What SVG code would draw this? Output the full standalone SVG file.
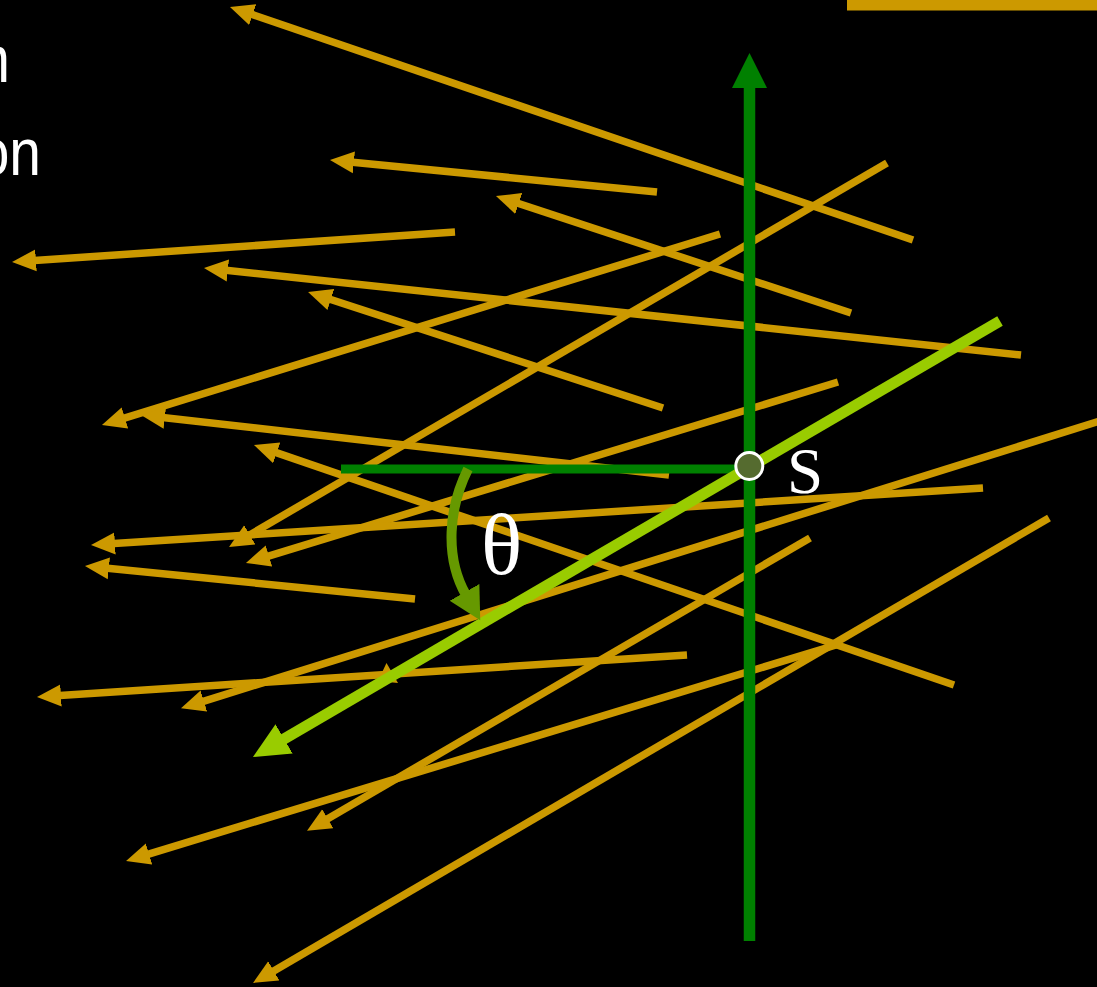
<svg xmlns="http://www.w3.org/2000/svg" width="1097" height="987" viewBox="0 0 1097 987">
  <defs>
    <style>
      .ray { stroke: #CC9900; stroke-width: 7.5; fill: none; marker-end: url(#ah-orange); }
      .serif { font-family: "Liberation Serif", "Times New Roman", serif; fill: #FFFFFF; }
      .sans { font-family: "Liberation Sans", Arial, sans-serif; fill: #FFFFFF; font-size: 67px; }
    </style>
    <marker id="ah-orange" markerUnits="userSpaceOnUse" markerWidth="26" markerHeight="24" viewBox="0 -12 26 24" refX="9" refY="0" orient="auto">
      <path d="M0,-11 L24,0 L0,11 Z" fill="#CC9900"/>
    </marker>
    <marker id="ah-green" markerUnits="userSpaceOnUse" markerWidth="37" markerHeight="37" viewBox="0 -18.5 37 37" refX="13" refY="0" orient="auto">
      <path d="M0,-17.5 L35,0 L0,17.5 Z" fill="#008000"/>
    </marker>
    <marker id="ah-lime" markerUnits="userSpaceOnUse" markerWidth="38" markerHeight="36" viewBox="0 -18 38 36" refX="14" refY="0" orient="auto">
      <path d="M0,-17 L36,0 L0,17 Z" fill="#99CC00"/>
    </marker>
    <marker id="ah-olive" markerUnits="userSpaceOnUse" markerWidth="34" markerHeight="36" viewBox="0 -18 34 36" refX="3" refY="0" orient="auto">
      <path d="M0,-17 L32,0 L0,17 Z" fill="#669900"/>
    </marker>
  </defs>

  <rect x="0" y="0" width="1097" height="987" fill="#000000"/>
  <rect x="847" y="0" width="250" height="10.5" fill="#CC9900"/>

  <g id="title-text">
    <text class="sans" transform="translate(10,82) scale(0.85,1)" text-anchor="end">n</text>
    <text class="sans" transform="translate(41,175) scale(0.85,1)" text-anchor="end">on</text>
  </g>

  <g id="connectors">
    <line class="ray" x1="913" y1="240" x2="244.2" y2="11.8"/>
    <line class="ray" x1="657" y1="192" x2="344.9" y2="161.5"/>
    <line class="ray" x1="851" y1="313" x2="510.2" y2="200.7"/>
    <line class="ray" x1="455" y1="232" x2="27.0" y2="261.0"/>
    <line class="ray" x1="1021" y1="355" x2="218.9" y2="269.6"/>
    <line class="ray" x1="663" y1="408" x2="322.3" y2="296.7"/>
    <line class="ray" x1="720" y1="234" x2="116.3" y2="420.6"/>
    <line class="ray" x1="887" y1="163" x2="242.0" y2="539.4"/>
    <line class="ray" x1="669" y1="475" x2="155.9" y2="416.7"/>
    <line class="ray" x1="954" y1="685" x2="268.2" y2="449.9"/>
    <line class="ray" x1="838" y1="382" x2="260.3" y2="558.6"/>
    <line class="ray" x1="983" y1="488" x2="106.0" y2="544.0"/>
    <line class="ray" x1="415" y1="599" x2="99.9" y2="567.5"/>
    <line class="ray" x1="1100" y1="421" x2="195.3" y2="703.8"/>
    <line class="ray" x1="687" y1="655" x2="52.0" y2="696.0"/>
    <line class="ray" x1="810" y1="538" x2="320.0" y2="823.2"/>
    <line class="ray" x1="1049" y1="518" x2="266.0" y2="975.4"/>
    <line class="ray" x1="836" y1="645" x2="140.4" y2="856.6"/>
    <polygon points="386.5,663 378,681 398,683" fill="#CC9900"/>

    <line x1="749.5" y1="941" x2="749.5" y2="75" stroke="#008000" stroke-width="11.5" marker-end="url(#ah-green)"/>
    <line x1="341" y1="469" x2="749" y2="469" stroke="#008000" stroke-width="9"/>
    <line x1="1000" y1="321" x2="272.0" y2="745.9" stroke="#99CC00" stroke-width="11" marker-end="url(#ah-lime)"/>
    <path d="M468,469 C449,507 444,556 466,595" stroke="#669900" stroke-width="10" fill="none" marker-end="url(#ah-olive)"/>
  </g>

  <g id="node-S">
    <circle cx="749.3" cy="466" r="13.5" fill="#556B2F" stroke="#FFFFFF" stroke-width="3"/>
    <text class="serif" x="787" y="493" font-size="65">S</text>
  </g>

  <g id="label-theta">
    <text class="serif" x="481" y="574" font-size="86">θ</text>
  </g>
</svg>
